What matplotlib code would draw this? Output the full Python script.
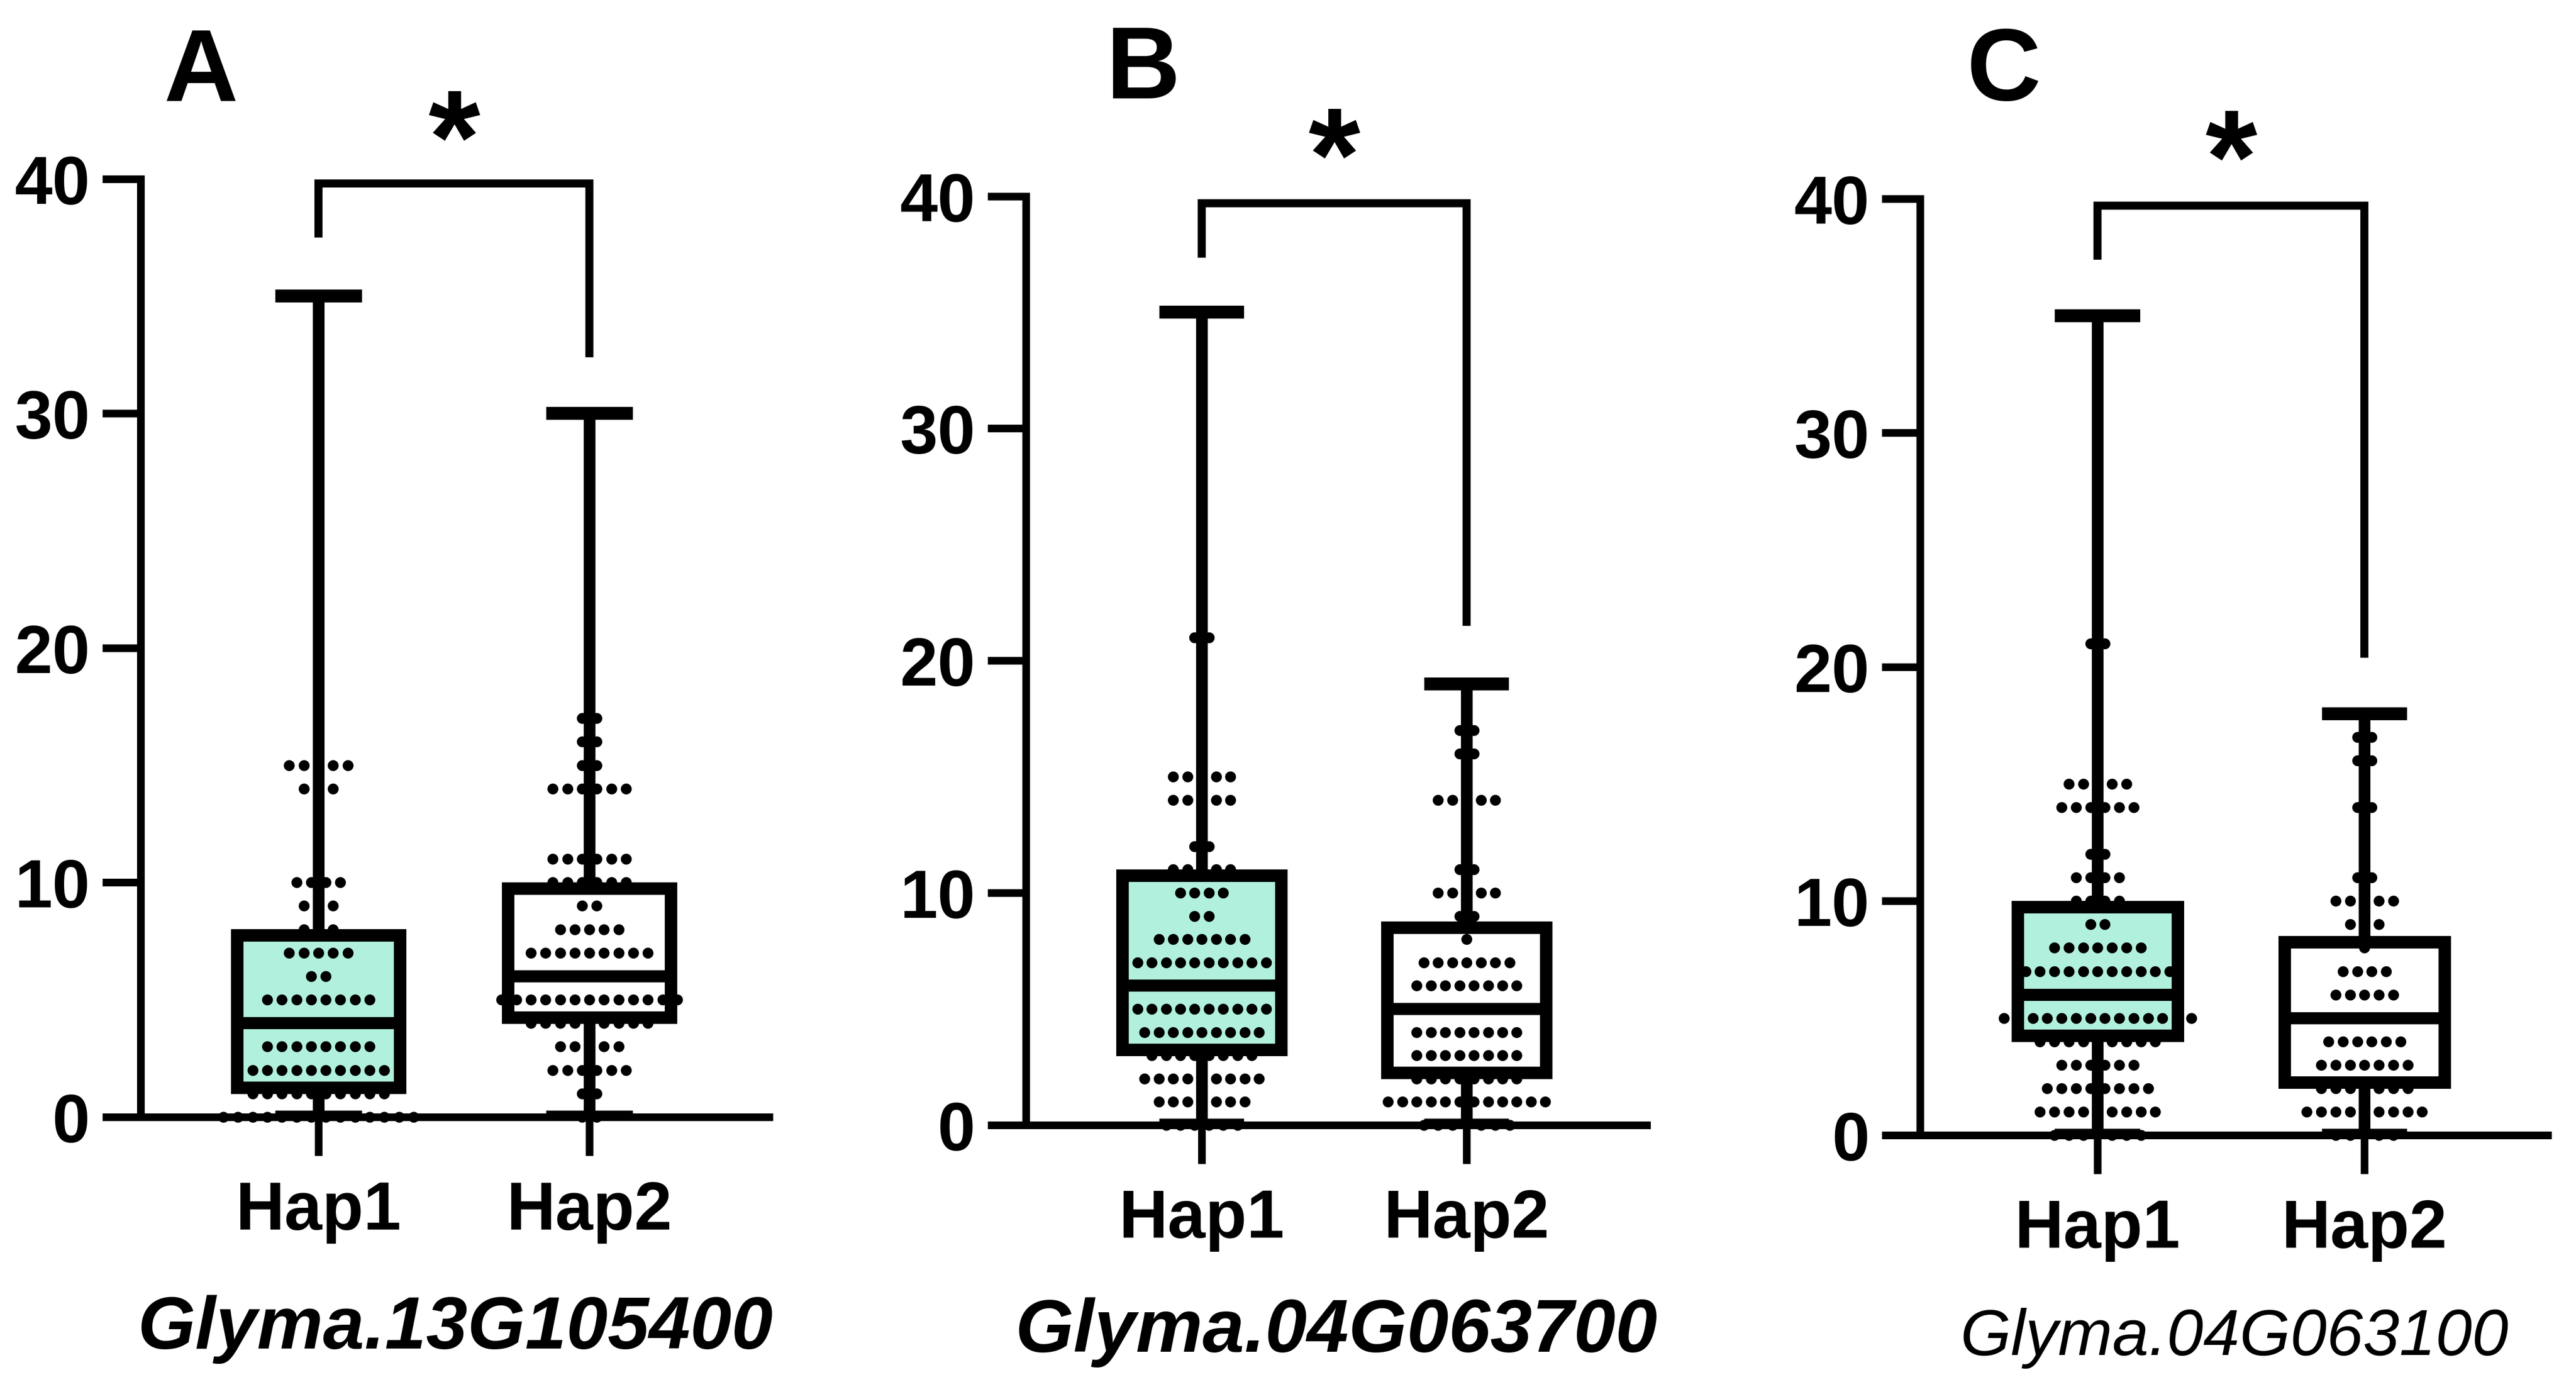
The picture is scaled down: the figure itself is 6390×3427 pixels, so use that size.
import numpy as np
import matplotlib
matplotlib.use("Agg")
import matplotlib.pyplot as plt

# ------------------------------------------------------------------
# data
# ------------------------------------------------------------------
haps = ["Hap1", "Hap2"]
genes = ["Glyma.13G105400", "Glyma.04G063700", "Glyma.04G063100"]
letters = ["A", "B", "C"]

# five-number summaries, [Hap1, Hap2]
a_min, a_q1, a_med, a_q3, a_max = [0, 0], [1.25, 4.25], [4, 6], [7.75, 9.75], [35, 30]
b_min, b_q1, b_med, b_q3, b_max = [0, 0], [3.25, 2.25], [6, 5], [10.75, 8.5], [35, 19]
c_min, c_q1, c_med, c_q3, c_max = [0, 0], [4.25, 2.25], [6, 5], [9.75, 8.25], [35, 18]

# individual points: value levels and how many points sit on each level
a1_levels = [0, 1, 2, 3, 4, 5, 6, 7, 8, 9, 10, 14, 15, 35]
a1_counts = [14, 10, 10, 8, 10, 8, 2, 5, 3, 3, 4, 3, 5, 1]
a2_levels = [0, 1, 2, 3, 4, 5, 6, 7, 8, 9, 10, 11, 14, 15, 16, 17, 30]
a2_counts = [2, 2, 6, 5, 9, 13, 8, 9, 5, 2, 6, 6, 6, 2, 2, 2, 1]

b1_levels = [0, 1, 2, 3, 4, 5, 6, 7, 8, 9, 10, 11, 12, 14, 15, 21, 35]
b1_counts = [6, 7, 9, 8, 9, 12, 12, 10, 7, 2, 4, 5, 2, 5, 5, 2, 1]
b2_levels = [0, 1, 2, 3, 4, 5, 6, 7, 8, 9, 10, 11, 14, 16, 17, 19]
b2_counts = [7, 12, 8, 8, 8, 8, 8, 7, 1, 2, 5, 2, 5, 2, 2, 1]

c1_levels = [0, 1, 2, 3, 4, 5, 6, 7, 8, 9, 10, 11, 12, 14, 15, 17, 18, 21, 30, 35]
c1_counts = [7, 9, 8, 6, 9, 14, 12, 11, 7, 2, 4, 4, 2, 6, 5, 1, 1, 2, 1, 1]
c2_levels = [0, 1, 2, 3, 4, 5, 6, 7, 8, 9, 10, 11, 14, 16, 17, 18]
c2_counts = [5, 9, 7, 7, 6, 6, 5, 4, 1, 3, 5, 2, 2, 2, 2, 1]

# ------------------------------------------------------------------
# layout, everything in pixels of the 6390 x 3427 output (dpi 72 -> 1pt = 1px)
# ------------------------------------------------------------------
W, H = 6390, 3427
DPI = 72
MINT = "#b0f0dc"

panels = [
    dict(left=349, right=1908, y0=2770, y40=444, x1=790, x2=1462,
         letter_xy=(499, 251), gene_y=3344, gene_fs=184, gene_w="bold",
         bracket=(37.5, 39.8, 32.4)),
    dict(left=2545, right=4085, y0=2790, y40=487, x1=2981, x2=3638,
         letter_xy=(2836, 244), gene_y=3352, gene_fs=186, gene_w="bold",
         bracket=(37.35, 39.7, 21.5)),
    dict(left=4763, right=6320, y0=2815, y40=493, x1=5203, x2=5865,
         letter_xy=(4970, 249), gene_y=3360, gene_fs=162, gene_w="normal",
         bracket=(37.4, 39.7, 20.4)),
]

summaries = [
    (a_min, a_q1, a_med, a_q3, a_max),
    (b_min, b_q1, b_med, b_q3, b_max),
    (c_min, c_q1, c_med, c_q3, c_max),
]
points = [
    ((a1_levels, a1_counts), (a2_levels, a2_counts)),
    ((b1_levels, b1_counts), (b2_levels, b2_counts)),
    ((c1_levels, c1_counts), (c2_levels, c2_counts)),
]

plt.rcParams["font.family"] = ["Liberation Sans", "DejaVu Sans"]

fig = plt.figure(figsize=((W + 0.5) / DPI, (H + 0.5) / DPI), dpi=DPI)
fig.patch.set_facecolor("white")

for i, p in enumerate(panels):
    unit = p["x2"] - p["x1"]
    ax = fig.add_axes([p["left"] / W, 1 - p["y0"] / H,
                       (p["right"] - p["left"]) / W, (p["y0"] - p["y40"]) / H])
    ax.set_xlim(1 - (p["x1"] - p["left"]) / unit, 2 + (p["right"] - p["x2"]) / unit)
    ax.set_ylim(0, 40)
    ax.patch.set_alpha(0)

    mn, q1, md, q3, mx = summaries[i]
    stats = [dict(whislo=mn[k], q1=q1[k], med=md[k], q3=q3[k], whishi=mx[k], label=haps[k])
             for k in range(2)]

    # box fill underneath the points
    fill = ax.bxp(stats, positions=[1, 2], widths=0.6, showfliers=False, showcaps=False,
                  patch_artist=True, zorder=1,
                  boxprops=dict(linewidth=0, edgecolor="none"),
                  whiskerprops=dict(linewidth=0), medianprops=dict(linewidth=0))
    fill["boxes"][0].set_facecolor(MINT)
    fill["boxes"][1].set_facecolor("white")

    # scatter of individual points, rows centred on each level
    for k, (levels, counts) in enumerate(points[i]):
        xs, ys = [], []
        for lv, n in zip(levels, counts):
            xs.extend(k + 1 + (np.arange(n) - (n - 1) / 2) * 0.054)
            ys.extend([lv] * n)
        ax.plot(xs, ys, "o", ms=27, color="black", mew=0, zorder=2, clip_on=False)

    # outlines, whiskers, caps, medians on top
    ax.bxp(stats, positions=[1, 2], widths=0.6, capwidths=0.32, showfliers=False,
           patch_artist=True, zorder=3,
           boxprops=dict(facecolor="none", edgecolor="black", linewidth=31),
           whiskerprops=dict(color="black", linewidth=29, solid_capstyle="butt"),
           capprops=dict(color="black", linewidth=32, solid_capstyle="butt"),
           medianprops=dict(color="black", linewidth=30, solid_capstyle="butt"))

    # significance bracket
    lo, top, right_lo = p["bracket"]
    ax.plot([1, 1, 2, 2], [lo, top, top, right_lo], color="black", lw=20,
            solid_joinstyle="miter", solid_capstyle="butt", clip_on=False, zorder=4)
    ax.annotate("*", xy=(1.5, 43.1), xytext=(0, -0.575 * 330), textcoords="offset points",
                ha="center", va="baseline", fontsize=330, fontweight="bold",
                annotation_clip=False)

    for side in ["top", "right"]:
        ax.spines[side].set_visible(False)
    for side in ["left", "bottom"]:
        ax.spines[side].set_linewidth(19)
        ax.spines[side].set_zorder(2.5)

    ax.set_yticks([0, 10, 20, 30, 40])
    ax.set_xticks([1, 2])
    ax.set_xticklabels(haps)
    ax.tick_params(axis="y", length=95, width=19, pad=31, labelsize=168)
    ax.tick_params(axis="x", length=96, width=19, pad=60, labelsize=168)
    plt.setp(ax.get_yticklabels(), fontweight="bold")
    plt.setp(ax.get_xticklabels(), fontweight="bold")

    # panel letter and gene name
    lx, ly = p["letter_xy"]
    fig.text(lx / W, 1 - ly / H, letters[i], ha="center", va="baseline",
             fontsize=255, fontweight="bold")
    fig.text((p["left"] + p["right"]) / 2 / W, 1 - p["gene_y"] / H, genes[i],
             ha="center", va="baseline", fontsize=p["gene_fs"], style="italic",
             fontweight=p["gene_w"])

fig.savefig("out.png", dpi=DPI, facecolor="white")
